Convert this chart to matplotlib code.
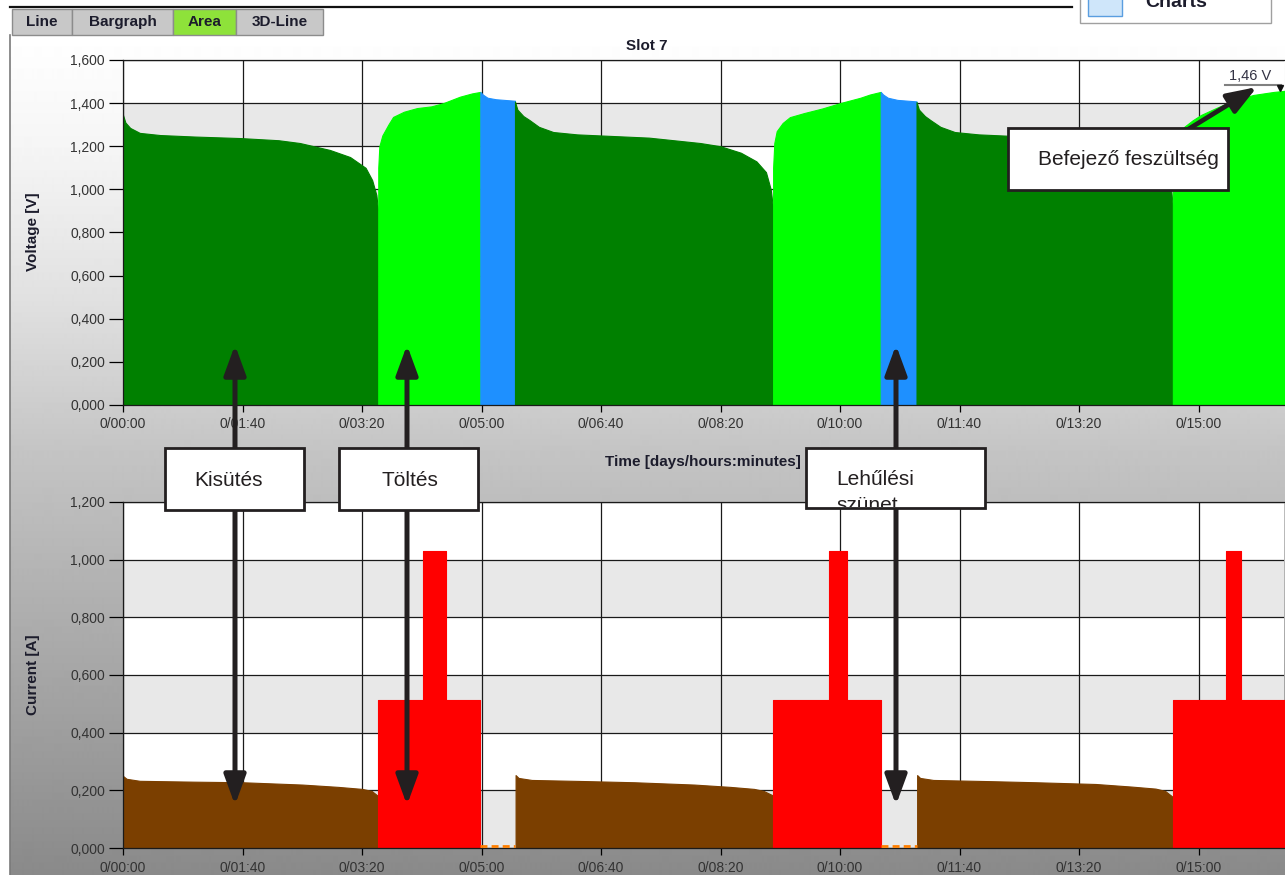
import numpy as np
import matplotlib.pyplot as plt
from matplotlib.patches import Rectangle
from matplotlib.ticker import MultipleLocator, FuncFormatter
from matplotlib.transforms import Bbox

plt.rcParams['font.family'] = ['Liberation Sans', 'DejaVu Sans']

# ---- data (time in minutes) ----
# voltage [V]
dis1_t = [0, 2, 6, 14, 31, 60, 98, 130, 148, 173, 190, 203, 208.5, 212, 213.6]
dis1_v = [1.345, 1.31, 1.285, 1.262, 1.252, 1.245, 1.238, 1.228, 1.215, 1.183, 1.15, 1.10, 1.043, 0.974, 0.895]
chg1_t = [213.6, 214.5, 217, 222, 226, 235, 246, 258, 268, 282, 292, 299]
chg1_v = [1.10, 1.20, 1.25, 1.30, 1.336, 1.36, 1.377, 1.385, 1.40, 1.43, 1.445, 1.452]
cool1_t = [299, 301, 305, 312, 328]
cool1_v = [1.452, 1.44, 1.425, 1.418, 1.411]
dis2_t = [328, 330, 335, 340, 348, 360, 380, 400, 440, 483, 500, 517, 530, 538, 542, 544]
dis2_v = [1.407, 1.37, 1.34, 1.322, 1.29, 1.266, 1.255, 1.25, 1.24, 1.215, 1.20, 1.17, 1.13, 1.08, 1.00, 0.91]
chg2_t = [544, 545, 547, 552, 558, 570, 585, 600, 617, 625, 634]
chg2_v = [1.10, 1.215, 1.27, 1.308, 1.335, 1.354, 1.375, 1.40, 1.425, 1.44, 1.452]
cool2_t = [634, 636, 640, 648, 664]
cool2_v = [1.452, 1.44, 1.425, 1.415, 1.408]
dis3_t = [664, 666, 671, 676, 684, 696, 716, 736, 776, 818, 836, 853, 866, 873, 877, 878.5]
dis3_v = [1.405, 1.37, 1.34, 1.32, 1.29, 1.266, 1.255, 1.25, 1.24, 1.215, 1.20, 1.17, 1.13, 1.08, 1.00, 0.92]
chg3_t = [878.5, 879.5, 882, 888, 895, 902, 915, 930, 946, 963, 972]
chg3_v = [1.10, 1.20, 1.25, 1.29, 1.32, 1.345, 1.378, 1.414, 1.438, 1.452, 1.457]

# current [A]
dis1_it = [0, 3, 14, 60, 100, 150, 180, 200, 208, 213.6]
dis1_i = [0.25, 0.24, 0.233, 0.23, 0.228, 0.22, 0.212, 0.205, 0.198, 0.18]
dis2_it = [328.5, 331, 342, 388, 428, 478, 508, 528, 536, 544]
dis2_i = [0.253, 0.243, 0.236, 0.232, 0.228, 0.22, 0.212, 0.205, 0.198, 0.182]
dis3_it = [664.5, 667, 678, 724, 764, 814, 844, 864, 872, 878.5]
dis3_i = [0.253, 0.243, 0.236, 0.232, 0.228, 0.222, 0.213, 0.206, 0.198, 0.177]
chg1_it = [213.6, 251, 251, 270.5, 270.5, 299]
chg2_it = [544, 590.5, 590.5, 605.5, 605.5, 634]
chg3_it = [878.5, 923, 923, 935.5, 935.5, 972]
chg_i = [0.515, 0.515, 1.03, 1.03, 0.515, 0.515]
pauses = [(299, 328), (634, 664)]

end_voltage_label = '1,46 V'

W, H = 1285, 875
fig = plt.figure(figsize=(W / 100, H / 100), dpi=100)
fig.patch.set_facecolor('white')


def frac(x0, y0, x1, y1):
  return [x0 / W, 1 - y1 / H, (x1 - x0) / W, (y1 - y0) / H]


# ---- background panel ----
bg = fig.add_axes([0, 0, 1, 1], zorder=-10)
bg.set_xlim(0, W)
bg.set_ylim(H, 0)
bg.axis('off')
rows = np.arange(35, H)
shade = np.interp(rows, [35, 150, 300, 450, 600, 750, 875],
                  [1.0, 0.96, 0.88, 0.77, 0.69, 0.61, 0.54])
bg.imshow(np.repeat(shade[:, None], 2, axis=1), cmap='gray', vmin=0, vmax=1,
          extent=(10, W, H, 35), aspect='auto', interpolation='bilinear')
bg.plot([10, 10], [35, H], color='#7a7a7a', lw=1.2)
bg.plot([10, 1072], [7, 7], color='#111111', lw=1.6)

tabs = [('Line', 12, 72), ('Bargraph', 72, 173), ('Area', 173, 236), ('3D-Line', 236, 323)]
for name, x0, x1 in tabs:
  fc = '#8ee23a' if name == 'Area' else '#c8c8c8'
  bg.add_patch(Rectangle((x0, 9), x1 - x0, 26, facecolor=fc, edgecolor='#8c8c8c', lw=1))
  bg.text((x0 + x1) / 2, 22, name, ha='center', va='center', fontsize=11,
          fontweight='bold', color='#1c1c2c')

bg.add_patch(Rectangle((1080, -5), 191, 28, facecolor='white', edgecolor='#a0a0a0', lw=1))
bg.add_patch(Rectangle((1088, -5), 34, 21, facecolor='#cfe6fa', edgecolor='#5a9ee0', lw=1))
bg.text(1176, 7, 'Charts', ha='center', va='baseline', fontsize=14,
        fontweight='bold', color='#1c1c2c')

# ---- plot axes ----
ax_v = fig.add_axes(frac(123, 60, 1284, 405))
ax_i = fig.add_axes(frac(123, 502, 1284, 848))


def time_fmt(m, pos):
  m = int(round(m))
  return '{}/{:02d}:{:02d}'.format(m // 1440, (m % 1440) // 60, m % 60)


def val_fmt(v, pos):
  return '{:.3f}'.format(v).replace('.', ',')


for ax, ymax in [(ax_v, 1.6), (ax_i, 1.2)]:
  ax.set_facecolor('white')
  for k in range(0, int(round(ymax / 0.2)), 2):
    ax.axhspan(k * 0.2, (k + 1) * 0.2, color='#e8e8e8', zorder=0, lw=0)
  ax.set_xlim(0, 971.5)
  ax.set_ylim(0, ymax)
  ax.xaxis.set_major_locator(MultipleLocator(100))
  ax.yaxis.set_major_locator(MultipleLocator(0.2))
  ax.xaxis.set_major_formatter(FuncFormatter(time_fmt))
  ax.yaxis.set_major_formatter(FuncFormatter(val_fmt))
  ax.set_axisbelow(True)
  ax.grid(True, color='#1a1a1a', lw=0.9)
  ax.tick_params(axis='y', length=10, width=0.9, pad=3, labelsize=10, labelcolor='#333333')
  ax.tick_params(axis='x', length=5, width=0.9, pad=4, labelsize=10, labelcolor='#333333')
  ax.spines['right'].set_visible(False)
  for s in ['left', 'bottom', 'top']:
    ax.spines[s].set_color('#1a1a1a')
    ax.spines[s].set_linewidth(0.9)

# voltage
for t, v, c in [(dis1_t, dis1_v, '#008000'), (chg1_t, chg1_v, '#00ff00'),
                (cool1_t, cool1_v, '#1e90ff'), (dis2_t, dis2_v, '#008000'),
                (chg2_t, chg2_v, '#00ff00'), (cool2_t, cool2_v, '#1e90ff'),
                (dis3_t, dis3_v, '#008000'), (chg3_t, chg3_v, '#00ff00')]:
  ax_v.fill_between(t, 0, v, facecolor=c, edgecolor=c, lw=0.8)

# current
for t, i in [(dis1_it, dis1_i), (dis2_it, dis2_i), (dis3_it, dis3_i)]:
  ax_i.fill_between(t, 0, i, facecolor='#7b3f00', edgecolor='#7b3f00', lw=0.8)
for t in [chg1_it, chg2_it, chg3_it]:
  ax_i.fill_between(t, 0, chg_i, facecolor='#ff0000', edgecolor='#ff0000', lw=0.8)
for p0, p1 in pauses:
  ax_i.plot([p0, p1], [0.006, 0.006], color='#ff7f00', lw=2, ls=(0, (2.5, 1.5)),
            clip_on=False, zorder=5)

fig.text(647 / W, 1 - 46 / H, 'Slot 7', ha='center', va='center', fontsize=11, fontweight='bold', color='#1c1c2c')
fig.text(703 / W, 1 - 462 / H, 'Time [days/hours:minutes]', ha='center', va='center',
         fontsize=11, fontweight='bold', color='#1c1c2c')
fig.text(33 / W, 1 - 232 / H, 'Voltage [V]', rotation=90, ha='center', va='center',
         fontsize=11, fontweight='bold', color='#1c1c2c')
fig.text(33 / W, 1 - 675 / H, 'Current [A]', rotation=90, ha='center', va='center',
         fontsize=11, fontweight='bold', color='#1c1c2c')

# ---- annotations overlay ----
ov = fig.add_axes([0, 0, 1, 1], zorder=10)
ov.set_xlim(0, W)
ov.set_ylim(H, 0)
ov.axis('off')
ov.patch.set_alpha(0)

arrow_col = '#231f20'
for x in [235, 407, 896]:
  ov.annotate('', xy=(x, 345), xytext=(x, 805),
              arrowprops=dict(arrowstyle='<|-|>,head_length=0.9,head_width=0.33',
                              lw=3.6, color=arrow_col, shrinkA=0, shrinkB=0,
                              mutation_scale=20))
ov.annotate('', xy=(1257, 87), xytext=(1187, 130),
            arrowprops=dict(arrowstyle='-|>,head_length=0.9,head_width=0.33',
                            lw=3.4, color=arrow_col, shrinkA=0, shrinkB=0,
                            mutation_scale=20))

boxes = [(165, 448, 304, 510), (339, 448, 478, 510), (806, 448, 985, 508), (1008, 128, 1228, 190)]
for x0, y0, x1, y1 in boxes:
  ov.add_patch(Rectangle((x0, y0), x1 - x0, y1 - y0, facecolor='white',
                         edgecolor=arrow_col, lw=2, zorder=5))

ov.text(229, 486, 'Kisütés', ha='center', va='baseline', fontsize=15, color='#231f20', zorder=6)
ov.text(410, 486, 'Töltés', ha='center', va='baseline', fontsize=15, color='#231f20', zorder=6)
ov.text(1038, 165, 'Befejező feszültség', ha='left', va='baseline', fontsize=15, color='#231f20', zorder=6)
clip = Bbox.from_extents(806, H - 507, 985, H - 448)
for txt, yb in [('Lehűlési', 485), ('szünet', 511)]:
  t = ov.text(836, yb, txt, ha='left', va='baseline', fontsize=15, color='#231f20', zorder=6)
  t.set_clip_box(clip)
  t.set_clip_on(True)

ov.text(1250, 80, end_voltage_label, ha='center', va='baseline', fontsize=10.5, color='#333344')
ov.plot([1225, 1281], [85, 85], color='#808080', lw=1.5)
ov.plot([1280], [88], marker='v', ms=5, color='#111111')

fig.savefig('out.png', dpi=100)
